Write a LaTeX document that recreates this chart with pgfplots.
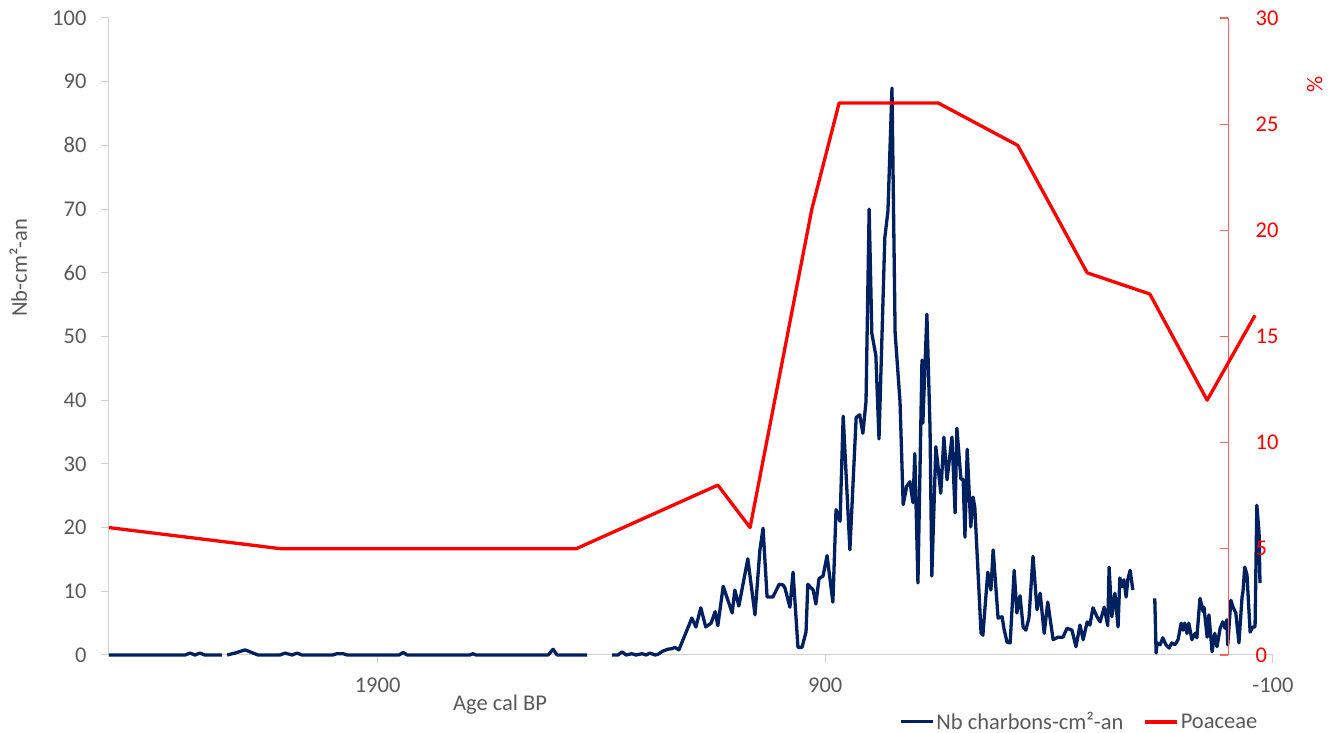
\documentclass[border=0pt]{standalone}
\usepackage{pgfplots}
\pgfplotsset{compat=1.18}
\usepackage{pgfplotstable}
\usepackage{fontspec}
\setmainfont{Carlito}
\definecolor{navyc}{HTML}{002060}
\definecolor{redc}{HTML}{FF0000}
\definecolor{redax}{HTML}{FF6060}
\definecolor{axg}{HTML}{D0D0D0}
\definecolor{txtg}{HTML}{595959}

\pgfplotstableread{
age val
2500 0
2330 0
2319 0.3
2308 0
2297 0.3
2286 0
2248 0
2242 nan
2236 0
2219 0.3
2196 0.8
2178 0.3
2167 0
2118 0
2107 0.3
2091 0
2080 0.3
2069 0
2000 0
1991 0.2
1977 0.2
1968 0
1852 0
1843 0.4
1834 0
1694 0
1687 0.2
1680 0
1519 0
1508 0.9
1499 0
1432 0
1400 nan
1376 0
1363 0
1354 0.5
1345 0
1332 0.2
1323 0
1309 0.2
1300 0
1292 0.3
1280 0
1274 0.1
1263 0.6
1252 0.9
1242 1.0
1236 1.2
1227 0.8
1198 5.8
1189 4.4
1178 7.4
1167 4.4
1155 5.0
1146 6.8
1140 4.6
1128 10.8
1108 6.6
1102 10.2
1093 7.7
1073 15.1
1057 6.3
1046 16.5
1039 19.9
1030 9.1
1017 9.1
1003 11.1
994 11.0
990 10.5
979 7.5
972 13.0
961 1.2
952 1.2
943 3.6
939 11.1
927 10.2
921 8.0
914 12.0
905 12.4
896 15.6
883 8.3
876 22.8
867 21.0
860 37.5
845 16.5
831 37.3
823 37.7
816 34.8
809 39.8
802 70.0
796 50.5
787 47.0
780 33.9
767 65.5
760 69.7
751 89.0
744 50.6
733 39.7
726 23.6
718 26.5
711 27.2
704 23.9
700 31.6
693 11.3
684 46.3
682 36.4
673 53.5
666 35.6
662 12.4
653 32.7
648 29.5
642 25.4
635 34.2
628 27.5
617 34.2
610 22.3
606 35.6
597 27.6
592 27.6
588 18.5
583 32.3
575 20.1
570 24.8
566 23.2
552 3.4
548 3.1
537 13.0
530 10.2
525 16.5
514 5.8
505 6.0
501 4.2
494 2.0
487 1.9
478 13.3
472 6.6
465 9.3
458 4.4
452 3.9
445 5.8
436 15.5
427 7.1
420 9.7
411 3.4
403 8.3
391 2.4
380 2.8
369 2.8
360 4.2
349 3.9
340 1.3
331 4.7
324 2.4
315 5.2
309 4.7
302 7.4
293 6.0
286 5.2
277 7.5
269 4.6
266 13.8
260 6.0
253 9.7
246 4.4
242 12.1
237 10.7
233 11.8
228 9.1
224 11.9
219 13.3
213 10.2
190 nan
164 8.9
161 0.3
159 1.9
152 1.6
146 2.7
139 1.6
132 1.1
126 1.9
119 1.6
112 2.4
105 5.0
101 3.9
97 5.0
92 3.4
88 5.0
81 2.4
74 3.4
70 2.7
63 8.9
56 6.8
54 7.5
47 2.8
43 6.3
36 0.5
30 3.4
25 1.3
18 4.2
12 5.2
7 4.2
3 5.5
1 1.6
-6 8.6
-11 7.5
-17 6.6
-24 1.9
-31 9.1
-33 9.9
-37 13.8
-42 12.6
-49 3.6
-55 4.4
-60 4.4
-64 23.5
-69 19.1
-71 11.3
}\charcoal

\pgfplotstableread{
age pct
2500 6
2114 5
1457 5
1140 8
1068 6
930 21
869 26
648 26
470 24
315 18
175 17
47 12
-60 16
}\poaceae

\begin{document}
\begin{tikzpicture}
\useasboundingbox (-109pt,-78pt) rectangle (1224pt,655pt);
\begin{axis}[
  at={(0pt,0pt)}, anchor=south west,
  scale only axis, width=1164pt, height=637pt,
  xmin=-100, xmax=2500, x dir=reverse,
  ymin=0, ymax=100,
  axis x line*=bottom, axis y line*=left,
  axis line style={axg, line width=1pt, -},
  xtick={1900,900,-100}, xticklabels={1900,900,{-100}},
  ytick={0,10,...,100},
  tick style={axg, line width=1pt},
  tick align=outside, major tick length=8pt,
  font=\fontsize{22.5}{27}\selectfont,
  ticklabel style={txtg, font=\fontsize{22.5}{27}\selectfont},
  xticklabel style={yshift=-11pt},
  yticklabel style={xshift=-11pt},
  /pgf/number format/assume math mode=true,
  unbounded coords=jump,
  every axis y label/.style={at={(axis description cs:-0.078,0.608)}, rotate=90, anchor=center, txtg},
  ylabel={Nb-cm²-an},
  every axis x label/.style={at={(axis description cs:0.336,-0.0785)}, anchor=center, txtg},
  xlabel={Age cal BP},
  clip=false,
]
\addplot[navyc, line width=3.3pt, line join=round] table[x=age, y=val] {\charcoal};
\end{axis}
\begin{axis}[
  at={(0pt,0pt)}, anchor=south west,
  scale only axis, width=1164pt, height=637pt,
  xmin=-100, xmax=2500, x dir=reverse,
  ymin=0, ymax=30,
  axis x line=none, axis y line*=middle,
  axis line style={redax, line width=1.2pt, -},
  ytick={0,5,...,30},
  tick style={redax, line width=1.2pt},
  tick align=inside, major tick length=8pt,
  font=\fontsize{22.5}{27}\selectfont,
  yticklabel style={redc, anchor=west, xshift=24pt, font=\fontsize{22.5}{27}\selectfont},
  /pgf/number format/assume math mode=true,
  clip=false,
  legend style={at={(axis description cs:0.991,-0.105)}, anchor=east, draw=none, fill=none,
    legend columns=2, font=\fontsize{22.5}{27}\selectfont, text=txtg,
    /tikz/every even column/.append style={column sep=18pt}},
  legend image code/.code={\draw[#1] (0pt,0pt) -- (32pt,0pt);},
]
\addlegendimage{navyc, line width=3pt}
\addlegendentry{Nb charbons-cm²-an}
\addplot[redc, line width=3.3pt, line join=round] table[x=age, y=pct] {\poaceae};
\addlegendentry{Poaceae}
\node[rotate=90, anchor=center, text=redc, font=\fontsize{22.5}{27}\selectfont] at (axis description cs:1.036,0.895) {\%};
\end{axis}
\end{tikzpicture}
\end{document}
